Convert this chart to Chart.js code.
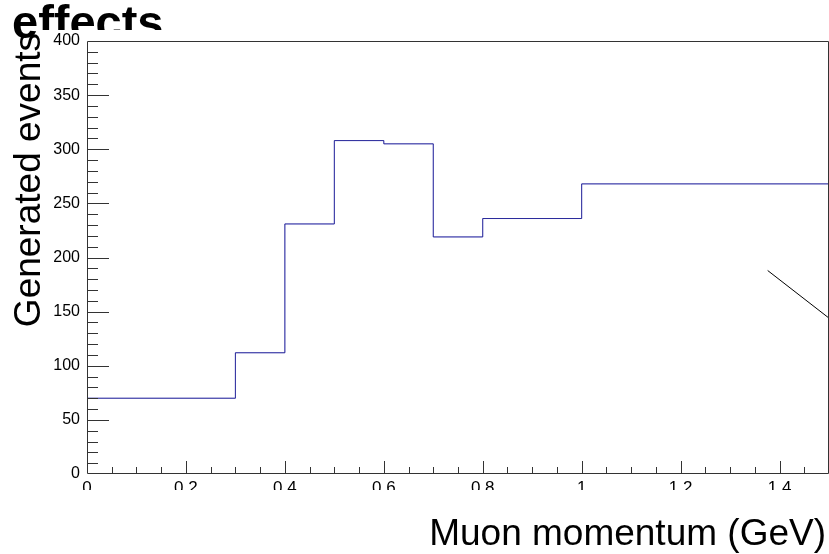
<!DOCTYPE html>
<html>
<head>
<meta charset="utf-8">
<script src="https://cdn.jsdelivr.net/npm/chart.js@4"></script>
<style>
  body { margin: 0; background: #fff; }
  canvas { display: block; }
</style>
</head>
<body>
<canvas id="histChart" width="829" height="554"></canvas>
<script>
// bin edges (GeV) and counts per bin
var binEdges = [0, 0.3, 0.4, 0.5, 0.6, 0.7, 0.8, 1.0, 1.5];
var blueCounts = [70, 112, 231, 308, 305, 219, 236, 268];
var blackCounts = [70, 112, 231, 308, 305, 219, 236, 268];
// stray line in the top right corner
var lineX = [1.376, 1.5];
var lineY = [188, 144];
var yTicks = [0, 50, 100, 150, 200, 250, 300, 350, 400];
var xTicks = [0, 0.2, 0.4, 0.6, 0.8, 1, 1.2, 1.4];

function histPoints(edges, counts) {
    var pts = [];
    for (var i = 0; i < counts.length; i++) pts.push({x: edges[i], y: counts[i]});
    pts.push({x: edges[edges.length - 1], y: counts[counts.length - 1]});
    return pts;
}

var rootStyle = {
    id: 'rootStyle',
    afterDraw: function(chart) {
        var ctx = chart.ctx;
        var a = chart.chartArea;
        var xs = chart.scales.x, ys = chart.scales.y;
        ctx.save();
        // hide lower part of the x labels, like the reference
        ctx.fillStyle = '#fff';
        ctx.fillRect(40, 490, 789, 18);

        ctx.strokeStyle = '#333';
        ctx.lineWidth = 1;
        ctx.beginPath();
        ctx.rect(a.left + 0.5, a.top + 0.5, a.right - a.left - 1, a.bottom - a.top - 1);
        ctx.stroke();

        // ticks inside the frame
        ctx.beginPath();
        for (var v = 10; v < 400; v += 10) {
            var py = Math.round(ys.getPixelForValue(v)) + 0.5;
            var len = (Math.round(v) % 50 === 0) ? 22 : 11;
            ctx.moveTo(a.left, py);
            ctx.lineTo(a.left + len, py);
        }
        for (var k = 1; k < 30; k++) {
            var xv = k * 0.05;
            var px = Math.round(xs.getPixelForValue(xv)) + 0.5;
            var l2 = (k % 4 === 0) ? 13 : 7;
            ctx.moveTo(px, a.bottom);
            ctx.lineTo(px, a.bottom - l2);
        }
        ctx.stroke();

        // axis titles
        ctx.fillStyle = '#000';
        ctx.font = '37px "Liberation Sans", Arial, sans-serif';
        ctx.textAlign = 'right';
        ctx.textBaseline = 'alphabetic';
        ctx.fillText('Muon momentum (GeV)', 826, 545);

        ctx.save();
        ctx.translate(40, 33);
        ctx.rotate(-Math.PI / 2);
        ctx.fillText('Generated events', 0, 0);
        ctx.restore();

        // clipped histogram title
        ctx.save();
        ctx.beginPath();
        ctx.rect(0, 0, 37, 45);
        ctx.rect(37, 0, 300, 30);
        ctx.clip();
        ctx.textAlign = 'left';
        ctx.font = 'bold 47px "Liberation Sans", Arial, sans-serif';
        ctx.fillText('effects', 12, 38);
        ctx.restore();

        ctx.restore();
    }
};

var ctx = document.getElementById('histChart').getContext('2d');
var histChart = new Chart(ctx, {
    type: 'line',
    data: {
        datasets: [{
            label: 'black',
            data: histPoints(binEdges, blackCounts),
            stepped: 'before',
            borderColor: 'rgba(0,0,0,0.5)',
            borderWidth: 0.6,
            pointRadius: 0,
            fill: false
        }, {
            label: 'blue',
            data: histPoints(binEdges, blueCounts),
            stepped: 'before',
            borderColor: '#3c3cdc',
            borderWidth: 1,
            pointRadius: 0,
            fill: false
        }, {
            label: 'line',
            data: lineX.map(function(x, i) { return {x: x, y: lineY[i]}; }),
            borderColor: '#000',
            borderWidth: 1,
            pointRadius: 0,
            fill: false
        }]
    },
    options: {
        responsive: false,
        animation: false,
        layout: { padding: { top: 41, right: 0, left: 0, bottom: 0 } },
        plugins: {
            legend: { display: false },
            tooltip: { enabled: false },
            title: { display: false }
        },
        scales: {
            x: {
                type: 'linear',
                min: 0,
                max: 1.5,
                grid: { display: false, drawTicks: false },
                border: { display: false },
                afterBuildTicks: function(scale) {
                    scale.ticks = xTicks.map(function(v) { return {value: v}; });
                },
                afterFit: function(scale) { scale.height = 80; },
                ticks: {
                    padding: 4,
                    maxRotation: 0,
                    autoSkip: false,
                    color: '#000',
                    font: { family: '"Liberation Sans", Arial, sans-serif', size: 17 },
                    callback: function(v) { return String(Math.round(v * 10) / 10); }
                }
            },
            y: {
                min: 0,
                max: 400,
                grid: { display: false, drawTicks: false },
                border: { display: false },
                afterBuildTicks: function(scale) {
                    scale.ticks = yTicks.map(function(v) { return {value: v}; });
                },
                afterFit: function(scale) { scale.width = 87; },
                ticks: {
                    padding: 7,
                    autoSkip: false,
                    color: '#000',
                    font: { family: '"Liberation Sans", Arial, sans-serif', size: 16 }
                }
            }
        }
    },
    plugins: [rootStyle]
});
</script>
</body>
</html>
